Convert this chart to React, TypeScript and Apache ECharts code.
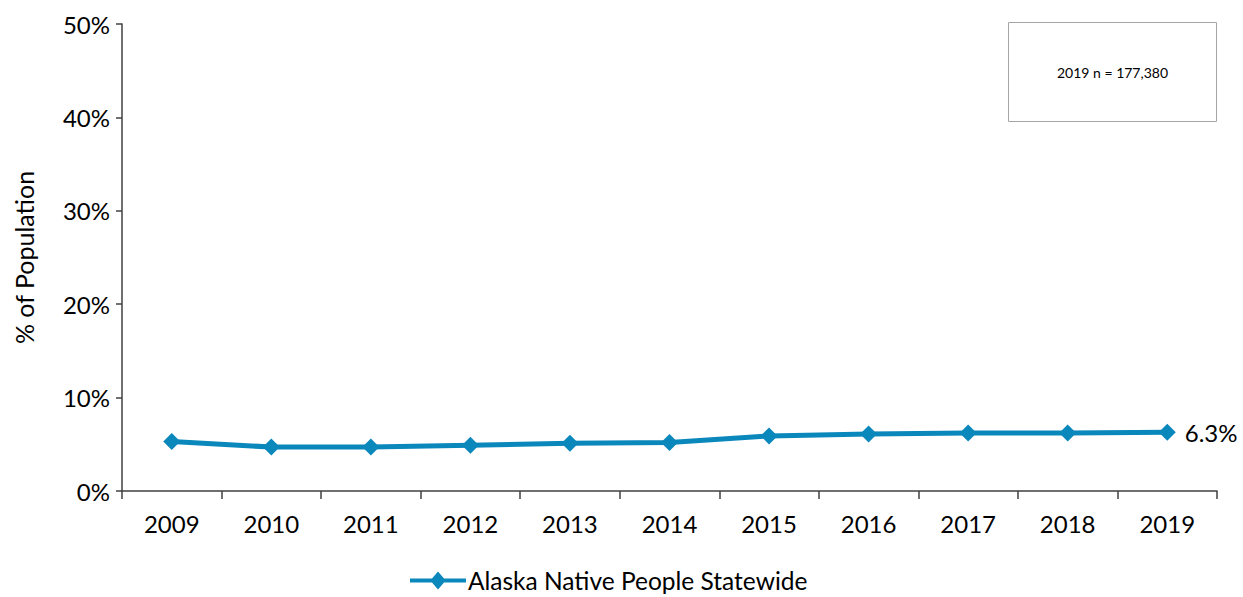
import React, { useEffect, useRef } from "react";
import * as echarts from "echarts";

const years = ["2009", "2010", "2011", "2012", "2013", "2014", "2015", "2016", "2017", "2018", "2019"];
const values = [5.3, 4.7, 4.7, 4.9, 5.1, 5.2, 5.9, 6.1, 6.2, 6.2, 6.3];
const seriesName = "Alaska Native People Statewide";
const yTicks = [0, 10, 20, 30, 40, 50];
const boxText = "2019 n = 177,380";

const FONT = "Lato, 'Open Sans', sans-serif";
const COLOR = "#0a87bb";

export default function App() {
  const ref = useRef<HTMLDivElement>(null);
  useEffect(() => {
    const chart = echarts.init(ref.current!, null, { renderer: "svg" });
    chart.setOption({
      animation: false,
      grid: { left: 122, right: 26, top: 24, bottom: 106, containLabel: false },
      legend: {
        bottom: -1,
        left: 405,
        data: [
          {
            name: seriesName,
            icon: "path://M0,7 L22,7 L28,0 L34,7 L56,7 L56,11 L34,11 L28,18 L22,11 L0,11 Z",
          },
        ],
        itemWidth: 56,
        itemHeight: 18,
        itemGap: 4,
        textStyle: { fontFamily: FONT, fontSize: 24.5, color: "#000", padding: [0, 0, 0, -3] },
      },
      xAxis: {
        type: "category",
        data: years,
        boundaryGap: true,
        axisLine: { lineStyle: { color: "#404040", width: 1.5 } },
        axisTick: { show: true, length: 8, inside: false, lineStyle: { color: "#404040", width: 1.5 } },
        axisLabel: { fontFamily: FONT, fontSize: 24, color: "#000", margin: 20 },
      },
      yAxis: {
        type: "value",
        min: yTicks[0],
        max: yTicks[yTicks.length - 1],
        interval: 10,
        name: "% of Population",
        nameLocation: "middle",
        nameGap: 86,
        nameTextStyle: { fontFamily: FONT, fontSize: 25, color: "#000" },
        splitLine: { show: false },
        axisLine: { show: true, lineStyle: { color: "#404040", width: 1.5 } },
        axisTick: { show: true, length: 6, lineStyle: { color: "#404040", width: 1.5 } },
        axisLabel: { fontFamily: FONT, fontSize: 24, color: "#000", margin: 12, formatter: "{value}%" },
      },
      series: [
        {
          name: seriesName,
          type: "line",
          data: values,
          symbol: "diamond",
          symbolSize: 17,
          itemStyle: { color: COLOR },
          lineStyle: { color: COLOR, width: 5 },
          label: {
            show: true,
            position: "right",
            distance: 9,
            fontFamily: FONT,
            fontSize: 24,
            color: "#000",
            formatter: (p: any) => (p.dataIndex === values.length - 1 ? p.value.toFixed(1) + "%" : ""),
          },
        },
      ],
      graphic: [
        {
          type: "group",
          left: 1008,
          top: 22,
          children: [
            {
              type: "rect",
              shape: { x: 0, y: 0, width: 208, height: 99 },
              style: { fill: "#fff", stroke: "#a6a6a6", lineWidth: 1 },
            },
            {
              type: "text",
              x: 104,
              y: 50,
              style: {
                text: boxText,
                fontFamily: FONT,
                fontSize: 14,
                fill: "#000",
                align: "center",
                verticalAlign: "middle",
              },
            },
          ],
        },
      ],
    });
    return () => chart.dispose();
  }, []);
  return <div ref={ref} style={{ width: 1243, height: 597, position: "absolute", left: 0, top: 0 }} />;
}
